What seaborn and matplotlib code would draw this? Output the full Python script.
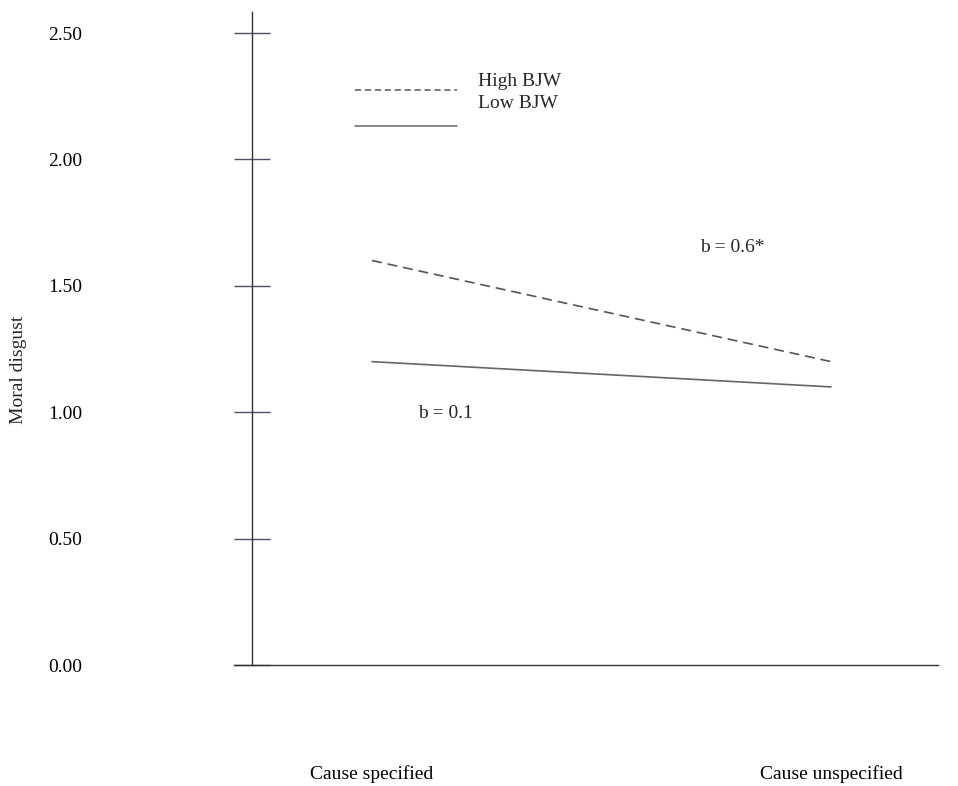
import matplotlib
matplotlib.use("Agg")

import pandas as pd
import matplotlib.pyplot as plt
import seaborn as sns
from matplotlib.lines import Line2D

causes = ["Cause specified", "Cause unspecified"]
high_bjw = [1.60, 1.20]
low_bjw = [1.20, 1.10]
y_ticks = [0.0, 0.5, 1.0, 1.5, 2.0, 2.5]

df = pd.DataFrame({
    "cause": causes * 2,
    "disgust": high_bjw + low_bjw,
    "group": ["High BJW"] * 2 + ["Low BJW"] * 2,
})

sns.set_style("white")
plt.rcParams["font.family"] = ["Liberation Serif", "DejaVu Serif"]

W, H = 958, 786
fig = plt.figure(figsize=(W / 100, H / 100), dpi=100)
# axes box in pixels: x 234..938, y 12..665
ax = fig.add_axes([234 / W, 1 - 665 / H, (938 - 234) / W, (665 - 12) / H])

sns.lineplot(
    data=df, x="cause", y="disgust",
    hue="group", style="group",
    palette={"High BJW": "#555555", "Low BJW": "#666666"},
    dashes={"High BJW": (6, 3.5), "Low BJW": ""},
    linewidth=1.2, legend=False, ax=ax,
)

# category positions 0 -> px 372, 1 -> px 831
px_per = 459.0
x0 = (234 - 372) / px_per
x1 = (938 - 372) / px_per
ax.set_xlim(x0, x1)
ax.set_ylim(0, 2.5 + 21 / 252.8)

for s in ["top", "right"]:
    ax.spines[s].set_visible(False)
ax.spines["left"].set_position(("data", (252 - 372) / px_per))
ax.spines["left"].set_color("#333333")
ax.spines["bottom"].set_color("#333333")
ax.spines["left"].set_linewidth(1.0)
ax.spines["bottom"].set_linewidth(1.0)

ax.set_yticks(y_ticks)
ax.set_yticklabels([f"{v:.2f}" for v in y_ticks])
ax.tick_params(axis="y", left=True, direction="inout", length=26, width=1.0,
               color="#5a4a6a", pad=109.5, labelsize=14, labelcolor="black")
ax.set_xticks([0, 1])
ax.set_xticklabels(causes)
ax.tick_params(axis="x", bottom=False, length=0, pad=72, labelsize=14,
               labelcolor="black")

ax.set_xlabel("")
ax.set_ylabel("Moral disgust", fontsize=14)
ax.yaxis.set_label_coords((27 - 234) / 704, 1 - (370 - 12) / 653)

# legend drawn like the original (text offset from lines)
fig.add_artist(Line2D([355 / W, 457 / W], [1 - 90 / H, 1 - 90 / H],
                      color="#555555", lw=1.1, linestyle=(0, (4, 2.5))))
fig.add_artist(Line2D([355 / W, 457 / W], [1 - 126 / H, 1 - 126 / H],
                      color="#666666", lw=1.1))
fig.text(478 / W, 1 - 82 / H, "High BJW", fontsize=14, va="center", ha="left")
fig.text(478 / W, 1 - 104 / H, "Low BJW", fontsize=14, va="center", ha="left")

fig.text(700 / W, 1 - 247 / H, "b = 0.6*", fontsize=14, va="center", ha="left")
fig.text(418 / W, 1 - 413 / H, "b = 0.1", fontsize=14, va="center", ha="left")

fig.savefig("out.png", dpi=100)
plt.close(fig)
